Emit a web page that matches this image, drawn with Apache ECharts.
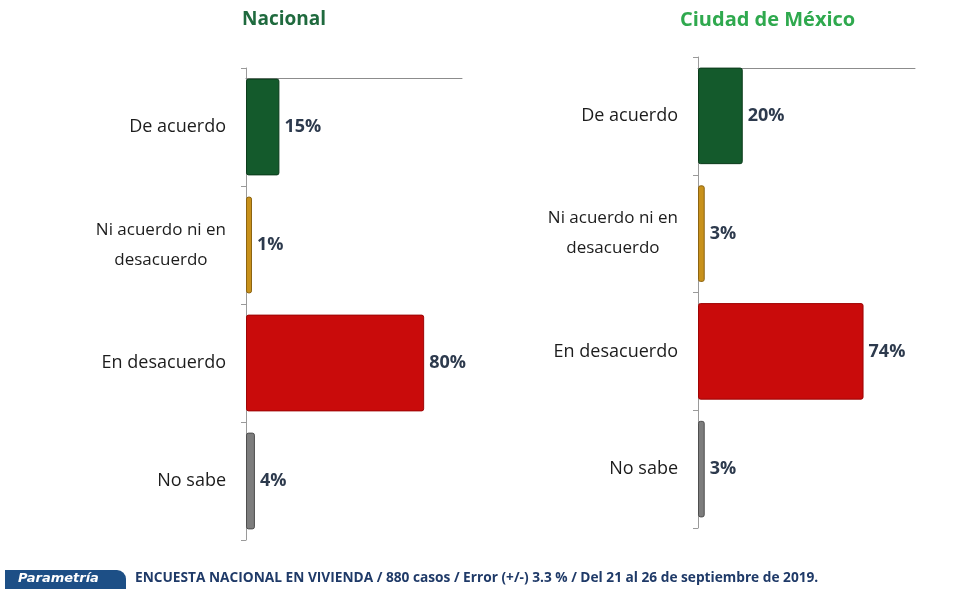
<!DOCTYPE html>
<html>
<head>
<meta charset="utf-8">
<script src="https://cdn.jsdelivr.net/npm/echarts@6/dist/echarts.min.js"></script>
<style>
  html, body { margin: 0; padding: 0; background: #fff; }
  #chart { width: 962px; height: 598px; }
</style>
</head>
<body>
<div id="chart"></div>
<script>
// categorías (de arriba a abajo)
const categories = ['De acuerdo', 'Ni acuerdo ni en\ndesacuerdo', 'En desacuerdo', 'No sabe']
const nacional = [15, 1, 80, 4]
const cdmx = [20, 3, 74, 3]
const barColors = ['#145a2c', '#c8911b', '#c90b0b', '#7d7d7d']
const borderColors = ['#0b3b1b', '#8c6412', '#9e0404', '#4e4e4e']
const footer = 'ENCUESTA NACIONAL EN VIVIENDA / 880 casos / Error (+/-) 3.3 % / Del 21 al 26 de septiembre de 2019.'

const FONT = '"Open Sans", sans-serif'

const chart = echarts.init(document.getElementById('chart'), null, { renderer: 'canvas' })

const catAxis = (grid) => ({
  type: 'category',
  gridIndex: grid,
  inverse: true,
  data: categories,
  axisLine: { show: true, lineStyle: { color: '#9a9a9a', width: 1 } },
  axisTick: { show: true, length: 5, lineStyle: { color: '#9a9a9a' } },
  axisLabel: {
    margin: 20,
    color: '#1c1c1c',
    fontFamily: FONT,
    fontSize: 18,
    lineHeight: 30,
    formatter: v => v.indexOf('\n') > -1 ? '{m|' + v + '}' : v,
    rich: { m: { align: 'center', fontFamily: FONT, fontSize: 17, lineHeight: 30, color: '#1c1c1c' } }
  }
})

const valAxis = (grid) => ({
  type: 'value', gridIndex: grid, min: 0, max: 97,
  axisLine: { show: false }, axisTick: { show: false },
  axisLabel: { show: false }, splitLine: { show: false }
})

// linea superior (pared del 3D)
const topAxis = (grid, off) => ({
  type: 'value', gridIndex: grid, position: 'top', offset: off, min: 0, max: 97,
  axisLine: { show: true, lineStyle: { color: '#8c8c8c', width: 1 } },
  axisTick: { show: false }, axisLabel: { show: false }, splitLine: { show: false }
})

const barSeries = (data, xi, yi) => ({
  type: 'bar',
  xAxisIndex: xi,
  yAxisIndex: yi,
  barWidth: '82%',
  barMinHeight: 6,
  data: data.map((v, i) => ({
    value: v,
    itemStyle: { color: barColors[i], borderColor: borderColors[i] }
  })),
  itemStyle: { borderWidth: 1, borderRadius: 2 },
  label: {
    show: true,
    position: 'right',
    distance: 5,
    formatter: '{c}%',
    color: '#2d3a4d',
    fontFamily: FONT,
    fontWeight: 'bold',
    fontSize: 18
  }
})

const option = {
  backgroundColor: '#ffffff',
  animation: false,
  title: [
    { text: 'Nacional', left: 237, top: 5,
      textStyle: { color: '#1f6a3e', fontFamily: FONT, fontWeight: 'bold', fontSize: 19 } },
    { text: 'Ciudad de México', left: 675, top: 5,
      textStyle: { color: '#2fa94e', fontFamily: FONT, fontWeight: 'bold', fontSize: 20 } }
  ],
  grid: [
    { left: 246, top: 68, width: 216, height: 472 },
    { left: 698, top: 57, width: 217, height: 471 }
  ],
  xAxis: [valAxis(0), valAxis(1), topAxis(0, -10), topAxis(1, -11)],
  yAxis: [catAxis(0), catAxis(1)],
  series: [barSeries(nacional, 0, 0), barSeries(cdmx, 1, 1)],
  graphic: [
    { type: 'rect', left: 5, top: 570, shape: { width: 121, height: 19, r: [0, 9, 0, 0] },
      style: { fill: '#1d4f86' } },
    { type: 'text', left: 18, top: 572,
      style: { text: 'Parametría', fill: '#ffffff', font: 'italic bold 13px "DejaVu Sans"' } },
    { type: 'text', left: 135, top: 571,
      style: { text: footer, fill: '#1f3a68', font: 'bold 13.7px "Open Sans"' } }
  ]
}

chart.setOption(option)
</script>
</body>
</html>
